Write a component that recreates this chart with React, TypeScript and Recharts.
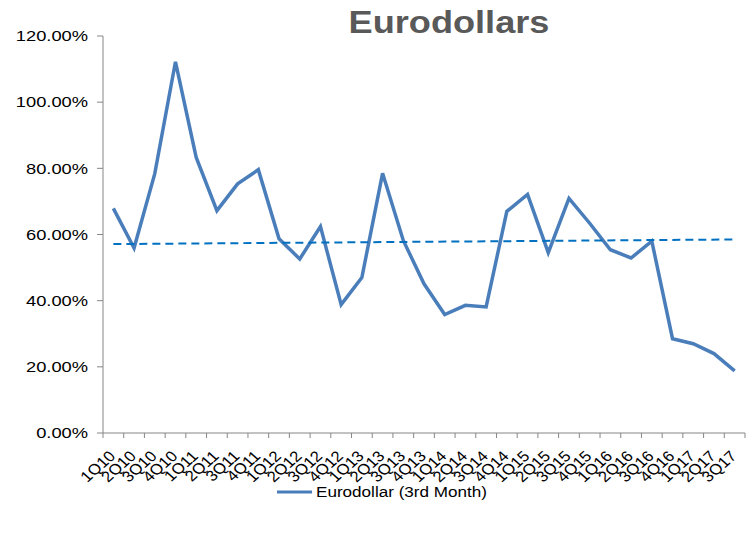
import React from 'react';
import { LineChart, Line, XAxis, YAxis, Legend } from 'recharts';

const QUARTERS = [
  '1Q10', '2Q10', '3Q10', '4Q10', '1Q11', '2Q11', '3Q11', '4Q11',
  '1Q12', '2Q12', '3Q12', '4Q12', '1Q13', '2Q13', '3Q13', '4Q13',
  '1Q14', '2Q14', '3Q14', '4Q14', '1Q15', '2Q15', '3Q15', '4Q15',
  '1Q16', '2Q16', '3Q16', '4Q16', '1Q17', '2Q17', '3Q17',
];

// Eurodollar (3rd Month), percent
const EURODOLLAR = [
  67.9, 55.9, 78.4, 112.2, 83.3, 67.2, 75.3, 79.6,
  58.7, 52.6, 62.4, 38.8, 47.0, 78.5, 58.2, 45.1,
  35.8, 38.6, 38.1, 67.0, 72.1, 54.5, 70.9, 63.4,
  55.4, 52.9, 58.0, 28.5, 27.0, 24.0, 18.8,
];

// dashed trend line end values
const TREND_START = 57.1;
const TREND_END = 58.5;

const Y_TICKS = [0, 20, 40, 60, 80, 100, 120];

const rows = QUARTERS.map((q, i) => ({
  q,
  euro: EURODOLLAR[i],
  trend: i === 0 ? TREND_START : i === QUARTERS.length - 1 ? TREND_END : null,
}));

const FONT = '"Liberation Sans", Arial, sans-serif';
const LINE_COLOR = '#4A7EBB';
const AXIS_COLOR = '#868686';

const CHART_W = 755;
const CHART_H = 534;
const MARGIN = { top: 36, right: 10, bottom: 30, left: 0 };
const Y_AXIS_W = 103;
const X_AXIS_H = 47;
const LEGEND_H = 24;
const BAND = (CHART_W - MARGIN.right - Y_AXIS_W) / QUARTERS.length;
const AXIS_Y = CHART_H - MARGIN.bottom - LEGEND_H - X_AXIS_H;

const YTick = (props: any) => {
  const { x, y, payload } = props;
  return (
    <g transform={`translate(${x},${y})`}>
      <text transform="scale(1.22,1)" textAnchor="end" dy="0.35em" fontSize={15} fontFamily={FONT} fill="#000">
        {`${Number(payload.value).toFixed(2)}%`}
      </text>
    </g>
  );
};

// excel style: tick marks sit between categories, labels rotated
const XTick = (props: any) => {
  const { x, y, payload, index } = props;
  const last = index === QUARTERS.length - 1;
  return (
    <g>
      <line x1={x - BAND / 2} x2={x - BAND / 2} y1={AXIS_Y} y2={AXIS_Y + 5} stroke={AXIS_COLOR} />
      {last && <line x1={x + BAND / 2} x2={x + BAND / 2} y1={AXIS_Y} y2={AXIS_Y + 5} stroke={AXIS_COLOR} />}
      <g transform={`translate(${x + 3},${y + 16})`}>
        <text transform="scale(1.12,1) rotate(-45)" textAnchor="end" fontSize={15} fontFamily={FONT} fill="#000">
          {payload.value}
        </text>
      </g>
    </g>
  );
};

const LegendBox = () => (
  <svg width={CHART_W} height={LEGEND_H} style={{ display: 'block' }}>
    <line x1={277} x2={312} y1={12} y2={12} stroke={LINE_COLOR} strokeWidth={3} />
    <g transform="translate(316,12)">
      <text transform="scale(1.14,1)" dy="0.35em" fontSize={15} fontFamily={FONT} fill="#000">
        Eurodollar (3rd Month)
      </text>
    </g>
  </svg>
);

export default function App() {
  return (
    <div style={{ position: 'absolute', left: 0, top: 0, width: CHART_W, height: CHART_H, background: '#fff' }}>
      <div
        style={{
          position: 'absolute',
          left: 349,
          top: 6,
          width: 200,
          textAlign: 'center',
          fontFamily: FONT,
          fontWeight: 'bold',
          fontSize: 32,
          lineHeight: '32px',
          color: '#595959',
          transform: 'scaleX(1.13)',
          zIndex: 2,
        }}
      >
        Eurodollars
      </div>
      <LineChart width={CHART_W} height={CHART_H} data={rows} margin={MARGIN}>
        <XAxis
          dataKey="q"
          scale="band"
          interval={0}
          tickLine={false}
          axisLine={{ stroke: AXIS_COLOR }}
          height={X_AXIS_H}
          tick={<XTick />}
        />
        <YAxis
          width={Y_AXIS_W}
          domain={[0, 120]}
          ticks={Y_TICKS}
          interval={0}
          tickSize={6}
          tickMargin={9}
          tickLine={{ stroke: AXIS_COLOR }}
          axisLine={{ stroke: AXIS_COLOR }}
          tick={<YTick />}
        />
        <Legend
          verticalAlign="bottom"
          content={<LegendBox />}
          wrapperStyle={{ left: 0, width: CHART_W, height: LEGEND_H }}
        />
        <Line
          dataKey="euro"
          name="Eurodollar (3rd Month)"
          stroke={LINE_COLOR}
          strokeWidth={3.5}
          dot={false}
          activeDot={false}
          isAnimationActive={false}
        />
        <Line
          dataKey="trend"
          stroke="#0070C0"
          strokeWidth={2}
          strokeDasharray="8 5"
          connectNulls
          dot={false}
          activeDot={false}
          legendType="none"
          isAnimationActive={false}
        />
      </LineChart>
    </div>
  );
}
